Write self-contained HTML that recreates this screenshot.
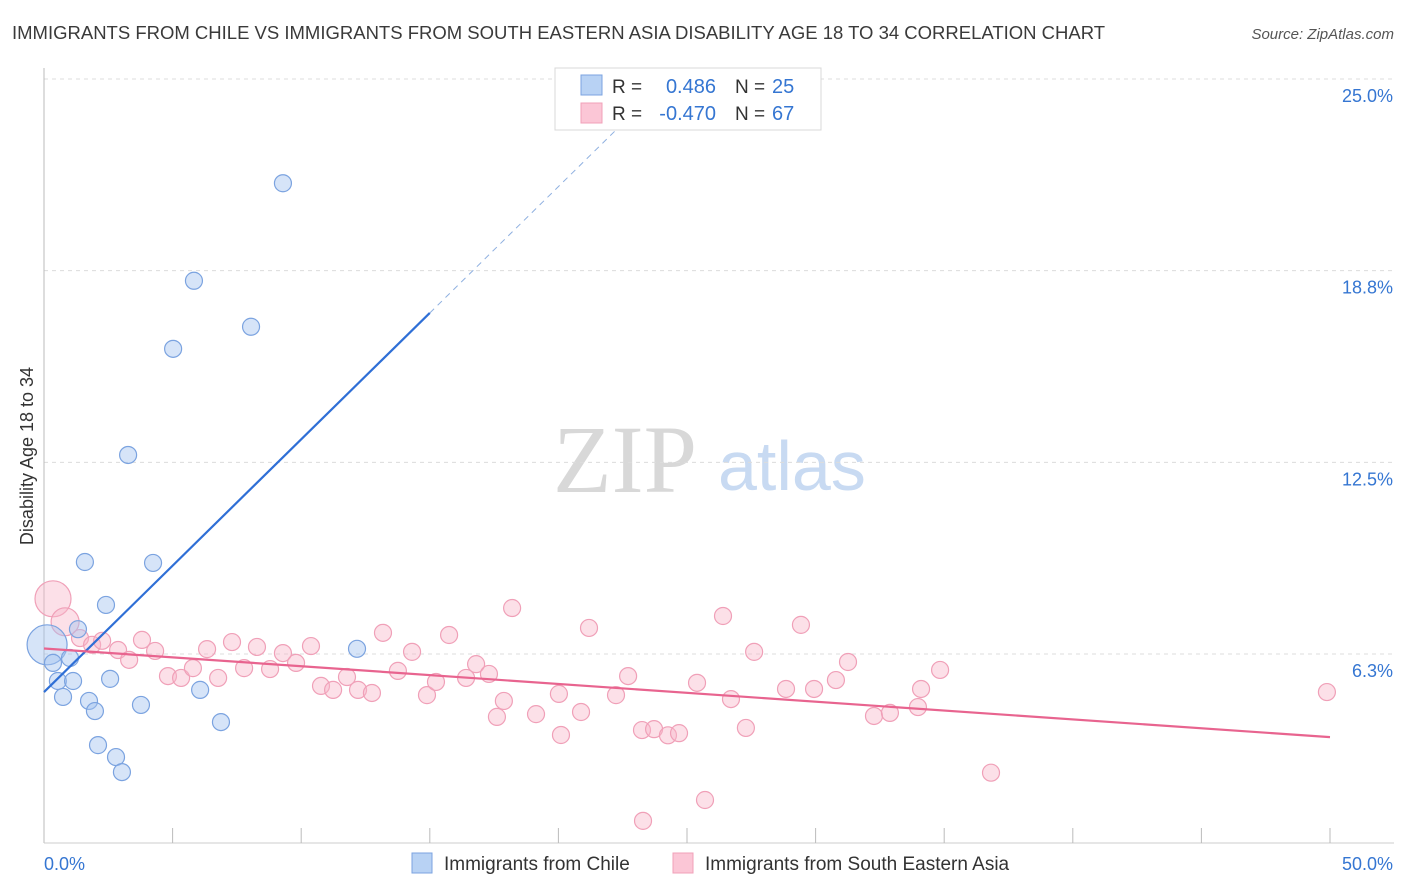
<!DOCTYPE html>
<html><head><meta charset="utf-8"><style>
body{margin:0;background:#fff;font-family:"Liberation Sans",sans-serif}
svg{display:block}
</style></head><body>
<svg id="chart" width="1406" height="892" xmlns="http://www.w3.org/2000/svg">
<text x="12" y="39" font-size="18.5" fill="#3a3a3a">IMMIGRANTS FROM CHILE VS IMMIGRANTS FROM SOUTH EASTERN ASIA DISABILITY AGE 18 TO 34 CORRELATION CHART</text>
<text x="1394" y="39" font-size="15" fill="#555" font-style="italic" text-anchor="end">Source: ZipAtlas.com</text>
<g>
<text x="553" y="492" font-family="Liberation Serif,serif" font-size="96" fill="#d8d8d8">ZIP</text>
<text x="718" y="490" font-size="70" fill="#c8daf2">atlas</text>
</g>
<g id="grid"></g>
<g id="axes"></g>
<g id="pts"></g>
<g id="lines"></g>
<g>
<rect x="555" y="68" width="266" height="62" fill="#fff" stroke="#d8d8d8"/>
<rect x="581" y="75" width="21" height="20" fill="#b8d2f4" stroke="#7ba3e0"/>
<rect x="581" y="103" width="21" height="20" fill="#fbc6d6" stroke="#f0a0b8"/>
<text x="612" y="93" font-size="19" fill="#333">R = </text><text x="716" y="93" font-size="20" fill="#3576d2" text-anchor="end">0.486</text>
<text x="735" y="93" font-size="19" fill="#333">N = </text><text x="772" y="93" font-size="20" fill="#3576d2">25</text>
<text x="612" y="120" font-size="19" fill="#333">R = </text><text x="716" y="120" font-size="20" fill="#3576d2" text-anchor="end">-0.470</text>
<text x="735" y="120" font-size="19" fill="#333">N = </text><text x="772" y="120" font-size="20" fill="#3576d2">67</text>
</g>
<g>
<rect x="412" y="853" width="20" height="20" fill="#b8d2f4" stroke="#7ba3e0"/>
<text x="444" y="870" font-size="19" fill="#333">Immigrants from Chile</text>
<rect x="673" y="853" width="20" height="20" fill="#fbc6d6" stroke="#f0a0b8"/>
<text x="705" y="870" font-size="19" fill="#333">Immigrants from South Eastern Asia</text>
</g>
</svg>
<script>
const yTicks=[6.25,12.5,18.75,25];
const yTickLabels=["6.3%","12.5%","18.8%","25.0%"];
const xTickVals=[5,10,15,20,25,30,35,40,45,50];
const chileX=[0.12,0.35,0.54,0.74,1.01,1.13,1.32,1.59,1.75,1.98,2.10,2.41,2.57,2.80,3.03,3.27,3.77,4.24,5.02,5.83,6.07,6.88,8.05,9.29,12.17];
const chileY=[6.55,5.96,5.37,4.85,6.12,5.37,7.06,9.25,4.72,4.39,3.28,7.85,5.44,2.89,2.40,12.74,4.59,9.22,16.2,18.42,5.08,4.03,16.92,21.6,6.42];
const seaX=[0.35,0.82,1.40,1.87,2.26,2.88,3.31,3.81,4.32,4.82,5.33,5.79,6.34,6.77,7.31,7.78,8.28,8.79,9.29,9.80,10.38,10.77,11.24,11.78,12.21,12.75,13.18,13.76,14.31,14.89,15.24,15.75,16.41,16.80,17.30,17.61,17.88,18.20,19.13,20.02,20.10,20.88,21.19,22.24,22.71,23.25,23.72,24.26,24.69,25.39,25.70,26.40,26.71,27.29,27.61,28.85,29.43,29.94,30.79,31.26,32.27,32.89,33.98,34.10,34.84,36.82,49.88,23.29];
const seaY=[8.05,7.30,6.77,6.55,6.68,6.38,6.06,6.71,6.35,5.53,5.47,5.79,6.41,5.47,6.64,5.79,6.48,5.76,6.28,5.96,6.51,5.21,5.08,5.50,5.08,4.98,6.94,5.70,6.32,4.91,5.34,6.87,5.47,5.92,5.60,4.20,4.72,7.75,4.29,4.95,3.61,4.36,7.10,4.91,5.53,3.77,3.80,3.60,3.67,5.31,1.49,7.49,4.78,3.84,6.32,5.11,7.20,5.11,5.40,5.99,4.23,4.33,4.52,5.11,5.73,2.38,5.01,0.81];
const chileTrend=[5.01,0.824]; // intercept, slope
const seaTrend=[6.43,-0.0578];
const NS='http://www.w3.org/2000/svg';
const X=v=>44+v*25.72, Y=v=>845.7-v*30.67;
function mk(p,t,a){const e=document.createElementNS(NS,t);for(const k in a)e.setAttribute(k,a[k]);p.appendChild(e);return e;}
const grid=document.getElementById('grid'),axes=document.getElementById('axes'),pts=document.getElementById('pts'),lines=document.getElementById('lines');
yTicks.forEach((v,i)=>{
 const g=mk(grid,'line',{x1:44,x2:1394,y1:Y(v),y2:Y(v),stroke:'#dcdcdc','stroke-dasharray':'4 4'});
 
 
 const t=mk(axes,'text',{x:1393,y:Y(v)+23,'font-size':18,fill:'#3576d2','text-anchor':'end'});t.textContent=yTickLabels[i];
 
 
});
mk(axes,'line',{x1:44,x2:44,y1:68,y2:843,stroke:'#bbb'});
mk(axes,'line',{x1:44,x2:1394,y1:843,y2:843,stroke:'#ccc'});
xTickVals.forEach(v=>{const l=mk(axes,'line',{x1:X(v),x2:X(v),y1:828,y2:843,stroke:'#bbb'});
 
 });
let t=mk(axes,'text',{x:44,y:870,'font-size':18,fill:'#3576d2'});t.textContent='0.0%';

t=mk(axes,'text',{x:1393,y:870,'font-size':18,fill:'#3576d2','text-anchor':'end'});t.textContent='50.0%';

t=mk(axes,'text',{x:0,y:0,'font-size':18,fill:'#333','text-anchor':'middle',transform:'translate(33,456) rotate(-90)'});t.textContent='Disability Age 18 to 34';


seaX.forEach((x,i)=>{const r=i==0?18:(i==1?14:8.5);
 const c=mk(pts,'circle',{cx:X(x),cy:Y(seaY[i]),r:r,fill:'rgba(248,180,200,0.42)',stroke:'#f0a0b8','stroke-width':1.2});
 
 });
chileX.forEach((x,i)=>{const r=i==0?20:8.5;
 const c=mk(pts,'circle',{cx:X(x),cy:Y(chileY[i]),r:r,fill:'rgba(164,196,240,0.45)',stroke:'#7ba3e0','stroke-width':1.2});
 
 });
let l=mk(lines,'line',{x1:X(0),y1:Y(chileTrend[0]),x2:X(15),y2:Y(chileTrend[0]+15*chileTrend[1]),stroke:'#2f6fd6','stroke-width':2.2});

const xe=(25-chileTrend[0])/chileTrend[1];
l=mk(lines,'line',{x1:X(15),y1:Y(chileTrend[0]+15*chileTrend[1]),x2:X(xe),y2:Y(25),stroke:'#8fb0e0','stroke-width':1,'stroke-dasharray':'6 5'});

l=mk(lines,'line',{x1:X(0),y1:Y(seaTrend[0]),x2:X(50),y2:Y(seaTrend[0]+50*seaTrend[1]),stroke:'#e8648f','stroke-width':2.2});

</script>
</body></html>
